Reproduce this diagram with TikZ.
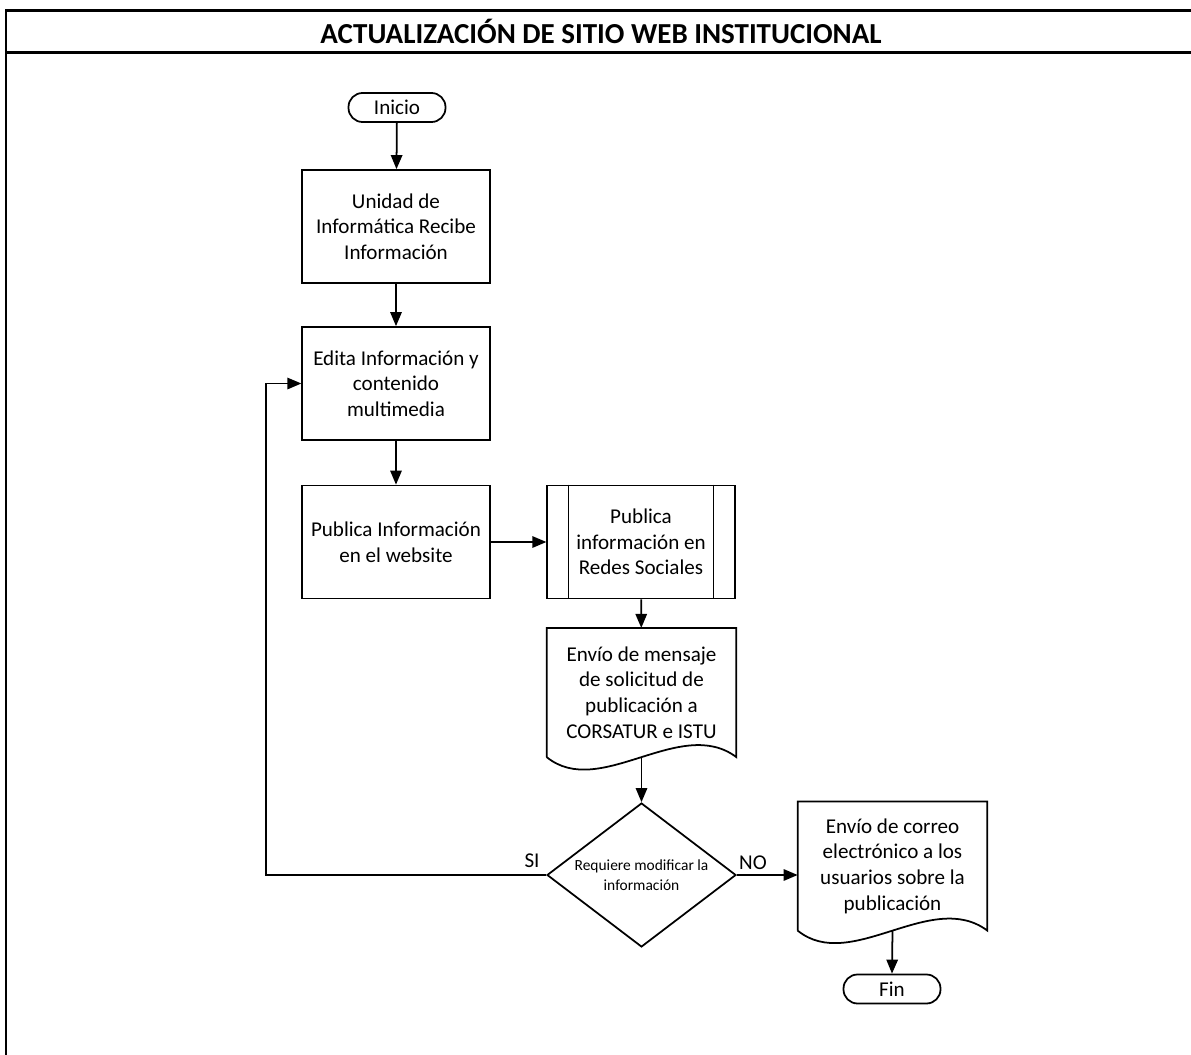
\documentclass[tikz,border=0pt]{standalone}
\usepackage{fontspec}
\setmainfont{Carlito}
\usetikzlibrary{shapes.geometric,arrows.meta}

\begin{document}
\begin{tikzpicture}[
		x=0.02cm, y=-0.02cm,
		every node/.style={
			align=center,
			inner sep=0pt,
			font=\fontsize{12}{14.6}\selectfont
		},
		proceso/.style={draw, rectangle, line width=1pt, minimum width=3.75cm, minimum height=2.26cm},
		predefinido/.style={proceso},
		documento/.style={minimum width=3.78cm, minimum height=2.57cm},
		terminal/.style={draw, rectangle, rounded corners=0.28cm, line width=1pt, minimum width=1.94cm, minimum height=0.58cm},
		decision/.style={draw, diamond, aspect=1.31, line width=1pt, minimum width=3.78cm, minimum height=2.88cm, font=\fontsize{8.8}{11.4}\selectfont},
		etiqueta/.style={font=\fontsize{12}{14}\selectfont},
		flecha/.style={draw, line width=1pt, -{Triangle[length=8pt,width=6.5pt]}},
		marco/.style={draw, line width=1.5pt}
		]
		
		\useasboundingbox (0,0) rectangle (1191,1055);
		\draw[marco] (6,1055) -- (6,10.5) -- (1191,10.5);
		\draw[marco] (6,52.5) -- (1191,52.5);
		\node[font=\bfseries\fontsize{16.5}{18}\selectfont] (titulo) at (601,31) {ACTUALIZACIÓN DE SITIO WEB INSTITUCIONAL};
		
		\node[terminal] (inicio) at (397,107.5) {Inicio};
		\node[proceso] (recibe) at (396,226.5) {Unidad de\\Informática Recibe\\Información};
		\node[proceso] (edita) at (396,383.5) {Edita Información y\\contenido\\multimedia};
		\node[proceso] (publica) at (396,542) {Publica Información\\en el website};
		\node[predefinido] (redes) at (641,542) {Publica\\información en\\Redes Sociales};
		\draw[line width=1pt] ([xshift=0.44cm]redes.north west) -- ([xshift=0.44cm]redes.south west);
		\draw[line width=1pt] ([xshift=-0.44cm]redes.north east) -- ([xshift=-0.44cm]redes.south east);
		
		\node[documento] (mensaje) at (641.5,692.5) {Envío de mensaje\\de solicitud de\\publicación a\\CORSATUR e ISTU};
		\draw[line width=1pt] (mensaje.south west) -- (mensaje.north west) -- (mensaje.north east) -- (mensaje.south east)
			.. controls +(-56,-42) and +(53,43) .. (mensaje.south west);
		
		\node[decision] (modificar) at (641.5,875) {Requiere modificar la\\información};
		\node[etiqueta] (si) at (532,861) {SI};
		\node[etiqueta] (no) at (753,863) {NO};
		
		\node[documento] (correo) at (892.5,866) {Envío de correo\\electrónico a los\\usuarios sobre la\\publicación};
		\draw[line width=1pt] (correo.south west) -- (correo.north west) -- (correo.north east) -- (correo.south east)
			.. controls +(-56,-42) and +(53,43) .. (correo.south west);
		
		\node[terminal] (fin) at (892,989) {Fin};
		
		\draw[flecha] (inicio) -- (recibe);
		\draw[flecha] (recibe) -- (edita);
		\draw[flecha] (edita) -- (publica);
		\draw[flecha] (publica) -- (redes);
		\draw[flecha] (redes) -- (mensaje);
		\draw[flecha] (mensaje.south) -- (modificar.north);
		\draw[flecha] (modificar.west) -- ++(-280,0) |- (edita.west);
		\draw[flecha] (modificar.east) -- (correo.west |- modificar.east);
		\draw[flecha] (correo.south) -- (fin.north);
	\end{tikzpicture}
\end{document}
